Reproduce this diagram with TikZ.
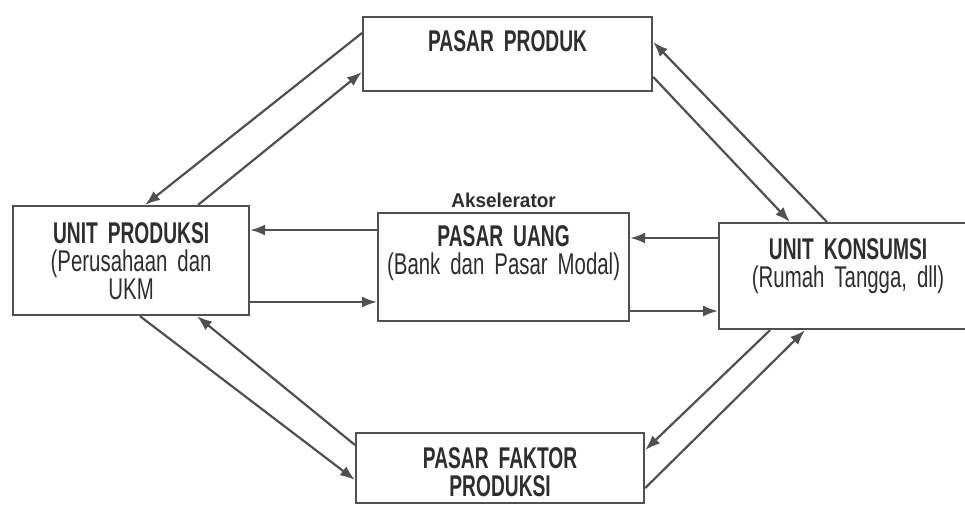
\documentclass[tikz,border=0pt]{standalone}
\usepackage{fontspec}
\setmainfont{Liberation Sans}
\newfontfamily\headfont{Liberation Sans}[FakeStretch=0.64,WordSpace=0.6]
\newfontfamily\subfont{Liberation Sans}[FakeStretch=0.68,WordSpace=0.8]
\newfontfamily\akfont{Liberation Sans}[FakeStretch=0.95]
\usetikzlibrary{arrows.meta,positioning}
\definecolor{inkgray}{HTML}{2E2E2E}
\definecolor{linegray}{HTML}{505050}

\begin{document}
\begin{tikzpicture}[x=1pt,y=-1pt,
  box/.style={draw=linegray, line width=2.2pt, inner sep=0pt, anchor=north west,
    align=center, text=inkgray, font=\fontsize{30}{28}\selectfont},
  flow/.style={draw=linegray, line width=2.2pt, -{Latex[length=15pt,width=11pt]}}]
\clip (0,0) rectangle (965,505);
% boxes
\node[box, text width=289pt, text height=34pt, text depth=40pt] (PP) at (362,16)
  {\headfont\bfseries PASAR PRODUK};
\node[box, text width=236pt, text height=37pt, text depth=72pt] (UP) at (12,205)
  {{\headfont\bfseries UNIT PRODUKSI}\\{\subfont (Perusahaan dan}\\{\subfont UKM}};
\node[box, text width=251pt, text height=33pt, text depth=75pt] (PU) at (377,212)
  {{\headfont\bfseries PASAR UANG}\\{\subfont (Bank dan Pasar Modal)}};
\node[box, text width=258pt, text height=36pt, text depth=70pt] (UK) at (718,222)
  {{\headfont\bfseries UNIT KONSUMSI}\\{\subfont (Rumah Tangga, dll)}};
\node[box, text width=288pt, text height=35pt, text depth=35pt] (PF) at (355,432)
  {{\headfont\bfseries PASAR FAKTOR}\\{\headfont\bfseries PRODUKSI}};
\node[above=1pt of PU, inner sep=3pt, text=inkgray,
  font=\akfont\bfseries\fontsize{20}{22}\selectfont] (Ak) {Akselerator};
% arus atas
\draw[flow] ([yshift=-17pt]PP.north west) -- ([xshift=133pt]UP.north west);
\draw[flow] ([xshift=186pt]UP.north west) -- ([yshift=-56pt]PP.north west);
\draw[flow] ([yshift=-61pt]PP.north east) -- ([xshift=72pt]UK.north west);
\draw[flow] ([xshift=109pt]UK.north west) -- ([yshift=-26pt]PP.north east);
% arus uang
\draw[flow] ([yshift=-18pt]PU.north west) -- ([yshift=-25pt]UP.north east);
\draw[flow] ([yshift=-97pt]UP.north east) -- ([yshift=-90pt]PU.north west);
\draw[flow] ([yshift=-16pt]UK.north west) -- ([yshift=-26pt]PU.north east);
\draw[flow] ([yshift=-99pt]PU.north east) -- ([yshift=-89pt]UK.north west);
% arus bawah
\draw[flow] ([xshift=128pt]UP.south west) -- ([yshift=-48pt]PF.north west);
\draw[flow] ([yshift=-13pt]PF.north west) -- ([xshift=185pt]UP.south west);
\draw[flow] ([xshift=52pt]UK.south west) -- ([yshift=-18pt]PF.north east);
\draw[flow] ([yshift=-56pt]PF.north east) -- ([xshift=87pt]UK.south west);
\end{tikzpicture}
\end{document}
